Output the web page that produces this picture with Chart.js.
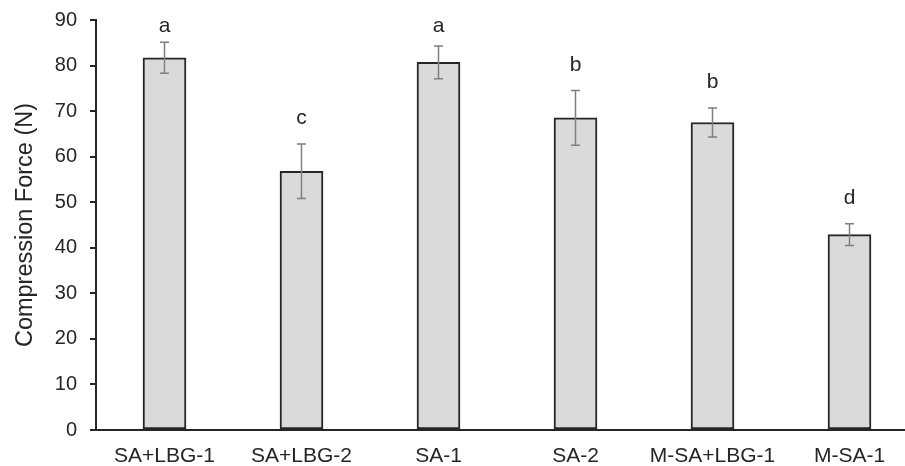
<!DOCTYPE html>
<html>
<head>
<meta charset="utf-8">
<script src="https://cdn.jsdelivr.net/npm/chart.js@4/dist/chart.umd.min.js"></script>
<style>
  html, body { margin: 0; padding: 0; background: #fff; overflow: hidden; }
  #wrap { width: 920px; height: 466px; }
</style>
</head>
<body>
<div id="wrap"><canvas id="myChart"></canvas></div>
<script>
// data block
const categories = ['SA+LBG-1', 'SA+LBG-2', 'SA-1', 'SA-2', 'M-SA+LBG-1', 'M-SA-1'];
const forceMeans = [81.7, 56.8, 80.7, 68.5, 67.5, 42.9];
const forceErrors = [3.4, 6.0, 3.6, 6.0, 3.2, 2.4];
const groupLetters = ['a', 'c', 'a', 'b', 'b', 'd'];
const yTicks = [0, 10, 20, 30, 40, 50, 60, 70, 80, 90];

const textColor = '#262626';

// error bars + significance letters
const errorBarPlugin = {
    id: 'errorBars',
    afterDatasetsDraw(chart) {
        const c = chart.ctx;
        const y = chart.scales.y;
        const meta = chart.getDatasetMeta(0);
        meta.data.forEach((bar, i) => {
            const x = bar.x;
            const top = y.getPixelForValue(forceMeans[i] + forceErrors[i]);
            const bottom = y.getPixelForValue(forceMeans[i] - forceErrors[i]);
            c.save();
            c.strokeStyle = '#7f7f7f';
            c.lineWidth = 1.5;
            c.beginPath();
            c.moveTo(x, top); c.lineTo(x, bottom);
            c.moveTo(x - 4.5, top); c.lineTo(x + 4.5, top);
            c.moveTo(x - 4.5, bottom); c.lineTo(x + 4.5, bottom);
            c.stroke();

            // letter above the error bar
            let base = top - 20;
            if (base < chart.chartArea.top + 12) base = chart.chartArea.top + 12;
            c.fillStyle = textColor;
            c.font = '21px "Liberation Sans", Arial, sans-serif';
            c.textAlign = 'center';
            c.textBaseline = 'alphabetic';
            c.fillText(groupLetters[i], x, base);
            c.restore();
        });
    }
};

// config block
const config = {
    type: 'bar',
    data: {
        labels: categories,
        datasets: [{
            data: forceMeans,
            backgroundColor: '#d9dadc',
            borderColor: '#262626',
            borderWidth: 2,
            borderSkipped: false,
            barThickness: 43
        }]
    },
    options: {
        responsive: true,
        maintainAspectRatio: false,
        animation: false,
        layout: {
            padding: { top: 20, right: 2, left: 0, bottom: 0 }
        },
        plugins: {
            legend: { display: false },
            tooltip: { enabled: false }
        },
        scales: {
            x: {
                grid: { display: false, drawTicks: false },
                border: { color: '#262626', width: 2 },
                ticks: {
                    color: textColor,
                    font: { family: '"Liberation Sans", Arial, sans-serif', size: 21 },
                    padding: 14,
                    maxRotation: 0,
                    autoSkip: false
                },
                afterFit: s => { s.height = 36; s.paddingLeft = 0; s.paddingRight = 0; }
            },
            y: {
                min: 0,
                max: 90,
                afterBuildTicks: s => { s.ticks = yTicks.map(v => ({ value: v })); },
                grid: { display: true, drawOnChartArea: false, tickLength: 6, color: '#262626', lineWidth: 2 },
                border: { color: '#262626', width: 2 },
                ticks: {
                    color: textColor,
                    font: { family: '"Liberation Sans", Arial, sans-serif', size: 20 },
                    padding: 13
                },
                title: {
                    display: true,
                    text: 'Compression Force (N)',
                    color: textColor,
                    font: { family: '"Liberation Sans", Arial, sans-serif', size: 23.5 },
                    padding: { top: 11, bottom: 0 }
                },
                afterFit: s => { s.width = 96; s.paddingTop = 0; s.paddingBottom = 0; }
            }
        }
    },
    plugins: [errorBarPlugin]
};

// init render block
const ctx = document.getElementById('myChart');
const myChart = new Chart(ctx, config);
</script>
</body>
</html>
